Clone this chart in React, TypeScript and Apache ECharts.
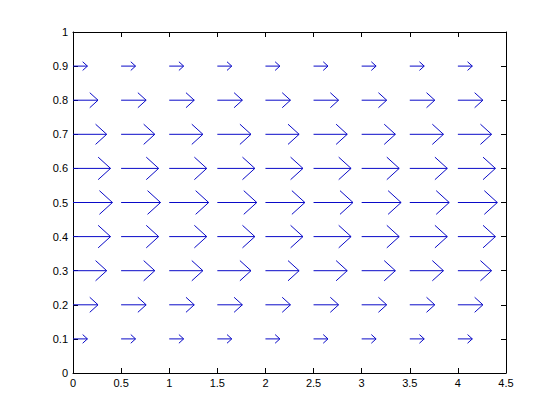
import React, { useEffect, useRef } from "react";
import * as echarts from "echarts";

// Arrow tail positions
const xPositions = [0, 0.5, 1, 1.5, 2, 2.5, 3, 3.5, 4];
const yPositions = [0.1, 0.2, 0.3, 0.4, 0.5, 0.6, 0.7, 0.8, 0.9];
// Arrow length (x data units) for each row
const rowLengths = [0.15, 0.26, 0.35, 0.39, 0.41, 0.39, 0.35, 0.26, 0.15];
// Axis tick labels
const xTicks = ["0", "0.5", "1", "1.5", "2", "2.5", "3", "3.5", "4", "4.5"];
const yTicks = ["0", "0.1", "0.2", "0.3", "0.4", "0.5", "0.6", "0.7", "0.8", "0.9", "1"];

const ARROW_COLOR = "#0a0ac8";

export default function App() {
  const ref = useRef<HTMLDivElement>(null);
  useEffect(() => {
    if (!ref.current) return;
    const chart = echarts.init(ref.current, undefined, { renderer: "svg" });
    const data: number[][] = [];
    yPositions.forEach((y, i) => {
      xPositions.forEach((x) => {
        data.push([x, y, rowLengths[i]]);
      });
    });
    const font = { fontFamily: "Liberation Sans, Arial, sans-serif", fontSize: 11, color: "#000" };
    const axisLine = { show: true, onZero: false, lineStyle: { color: "#000", width: 1 } };
    const axisTick = { show: true, inside: true, length: 5, lineStyle: { color: "#000", width: 1 } };
    chart.setOption({
      animation: false,
      backgroundColor: "#ffffff",
      grid: { left: 73, right: 54, top: 32, bottom: 47, containLabel: false },
      xAxis: [
        {
          type: "value", min: 0, max: 4.5, interval: 0.5, position: "bottom",
          axisLine, axisTick, splitLine: { show: false },
          axisLabel: { ...font, margin: 4, formatter: (v: number) => xTicks[Math.round(v / 0.5)] },
        },
        {
          type: "value", min: 0, max: 4.5, interval: 0.5, position: "top",
          axisLine, axisTick, splitLine: { show: false }, axisLabel: { show: false },
        },
      ],
      yAxis: [
        {
          type: "value", min: 0, max: 1, interval: 0.1, position: "left",
          axisLine, axisTick, splitLine: { show: false },
          axisLabel: { ...font, margin: 5, formatter: (v: number) => yTicks[Math.round(v / 0.1)] },
        },
        {
          type: "value", min: 0, max: 1, interval: 0.1, position: "right",
          axisLine, axisTick, splitLine: { show: false }, axisLabel: { show: false },
        },
      ],
      series: [
        {
          type: "custom",
          xAxisIndex: 0,
          yAxisIndex: 0,
          data,
          renderItem: (params: any, api: any) => {
            const x = api.value(0);
            const y = api.value(1);
            const u = api.value(2);
            const p0 = api.coord([x, y]);
            const p1 = api.coord([x + u, y]);
            const L = p1[0] - p0[0];
            const hb = 0.33 * L;
            const hw = 0.3 * L;
            return {
              type: "group",
              children: [
                {
                  type: "line",
                  shape: { x1: p0[0], y1: p0[1], x2: p1[0], y2: p1[1] },
                  style: { stroke: ARROW_COLOR, lineWidth: 1 },
                },
                {
                  type: "polyline",
                  shape: {
                    points: [
                      [p1[0] - hb, p1[1] - hw],
                      [p1[0], p1[1]],
                      [p1[0] - hb, p1[1] + hw],
                    ],
                  },
                  style: { stroke: ARROW_COLOR, fill: "none", lineWidth: 1 },
                },
              ],
            };
          },
        },
      ],
    });
    return () => chart.dispose();
  }, []);
  return (
    <div
      ref={ref}
      style={{ position: "fixed", left: 0, top: 0, width: 560, height: 420, background: "#fff" }}
    />
  );
}
